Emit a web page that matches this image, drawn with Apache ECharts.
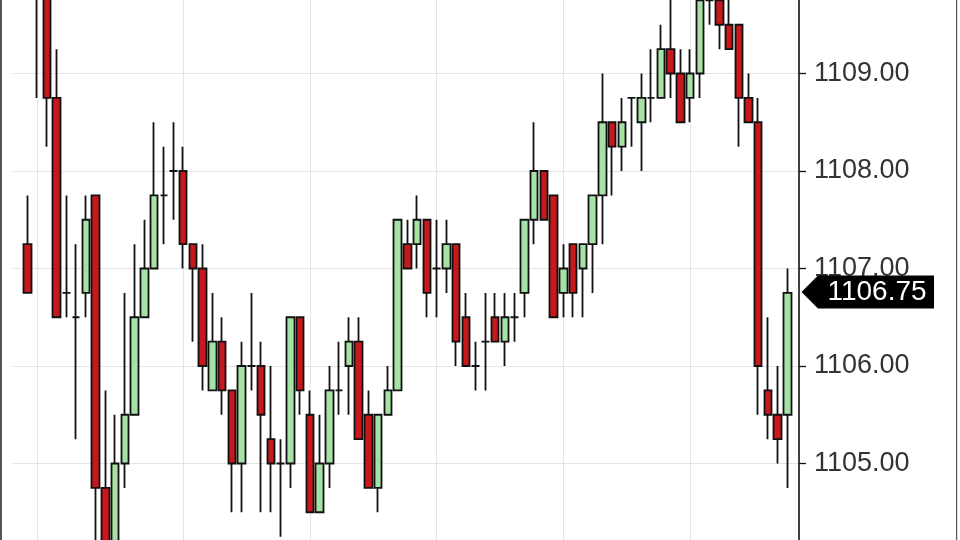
<!DOCTYPE html>
<html>
<head>
<meta charset="utf-8">
<script src="https://cdn.jsdelivr.net/npm/echarts@6/dist/echarts.min.js"></script>
<style>
html,body{margin:0;padding:0;background:#fff;width:960px;height:540px;overflow:hidden;position:relative;}
#chart{position:absolute;left:0;top:-24px;width:960px;height:585px;}
</style>
</head>
<body>
<div id="chart"></div>
<script>
// ---- data (each candle: open, close, low, high) ----
const opens  = [1107.25,1110.0,1110.25,1108.75,1106.75,1106.5,1106.75,1107.75,1104.75,1104.0,
                1105.0,1105.5,1106.5,1107.0,1107.75,1108.0,1108.0,1107.25,1107.0,1105.75,
                1106.25,1105.75,1105.0,1106.0,1106.0,1105.25,1105.0,1105.0,1106.5,1105.5,
                1104.5,1105.0,1105.75,1106.0,1106.25,1105.5,1104.75,1105.5,1105.75,1107.25,
                1107.25,1107.5,1107.0,1107.0,1107.25,1106.5,1106.0,1106.25,1106.5,1106.25,
                1106.5,1106.75,1107.5,1108.0,1107.75,1106.75,1107.25,1107.0,1107.25,1107.75,
                1108.5,1108.25,1108.75,1108.5,1108.75,1108.75,1109.25,1109.0,1108.75,1109.0,
                1109.75,1109.75,1109.5,1109.5,1108.75,1108.5,1105.75,1105.5,1105.5];
const closes = [1106.75,1110.5,1108.75,1106.5,1106.75,1106.5,1107.5,1104.75,1104.0,1105.0,
                1105.5,1106.5,1107.0,1107.75,1107.75,1108.0,1107.25,1107.0,1106.0,1106.25,
                1105.75,1105.0,1106.0,1106.0,1105.5,1105.0,1105.0,1106.5,1105.75,1104.5,
                1105.0,1105.75,1105.75,1106.25,1105.25,1104.75,1105.5,1105.75,1107.5,1107.0,
                1107.5,1106.75,1107.0,1107.25,1106.25,1106.0,1106.0,1106.25,1106.25,1106.5,
                1106.5,1107.5,1108.0,1107.5,1106.5,1107.0,1106.75,1107.25,1107.75,1108.5,
                1108.25,1108.5,1108.75,1108.75,1108.75,1109.25,1109.0,1108.5,1109.0,1109.75,
                1109.75,1109.5,1109.25,1108.75,1108.5,1106.0,1105.5,1105.25,1106.75];
const lows   = [1106.75,1108.75,1108.25,1106.5,1106.5,1105.25,1106.5,1103.75,1103.75,1103.75,
                1104.75,1105.5,1106.5,1107.0,1107.25,1107.5,1107.0,1106.25,1105.75,1105.75,
                1105.5,1104.5,1104.5,1105.75,1104.5,1104.5,1104.25,1104.75,1105.5,1104.5,
                1104.5,1104.75,1105.5,1105.5,1105.25,1104.75,1104.5,1105.5,1105.75,1107.0,
                1107.0,1106.5,1106.5,1106.75,1106.0,1106.0,1105.75,1105.75,1106.25,1106.0,
                1106.25,1106.5,1107.25,1107.5,1106.5,1106.5,1106.5,1106.5,1106.75,1107.25,
                1107.75,1108.0,1108.25,1108.0,1108.5,1108.75,1108.75,1108.5,1108.5,1108.75,
                1109.5,1109.25,1109.25,1108.25,1108.5,1105.5,1105.25,1105.0,1104.75];
const highs  = [1107.75,1110.75,1110.5,1109.25,1107.75,1107.25,1107.75,1107.75,1105.75,1105.5,
                1106.75,1107.25,1107.5,1108.5,1108.25,1108.5,1108.25,1107.25,1107.25,1106.75,
                1106.5,1105.75,1106.25,1106.75,1106.25,1106.0,1105.25,1106.5,1106.5,1105.75,
                1105.5,1106.0,1106.25,1106.5,1106.5,1105.75,1105.5,1106.0,1107.5,1107.5,
                1107.75,1107.5,1107.5,1107.5,1107.25,1106.75,1106.25,1106.75,1106.75,1106.75,
                1106.75,1107.5,1108.5,1108.0,1107.75,1107.25,1107.25,1107.25,1107.75,1109.0,
                1108.5,1108.75,1108.75,1109.0,1109.25,1109.5,1110.0,1109.25,1109.25,1110.0,
                1110.0,1110.0,1110.0,1109.5,1109.0,1108.75,1106.5,1106.0,1107.0];
// category labels (one spare slot on each side of the bars)
const categories = ['pre'].concat(opens.map((_, i) => String(i + 1))).concat(['post']);
// vertical session grid lines (at these bars)
const sessionMarks = ['2', '17', '30', '43', '56', '69'];
// price axis
const priceMin = 1104, priceMax = 1110, priceStep = 1;

const candles = [['-', '-', '-', '-']].concat(
  opens.map((o, i) => [o, closes[i], lows[i], highs[i]])
);
const lastClose = closes[closes.length - 1];

const chart = echarts.init(document.getElementById('chart'), null, {renderer: 'canvas'});
const FONT = '"Liberation Sans", Arial, sans-serif';

chart.setOption({
  animation: false,
  backgroundColor: '#ffffff',
  grid: { left: 12.7, width: 789.4, top: 0, bottom: 0, containLabel: false },
  xAxis: {
    type: 'category',
    data: categories,
    boundaryGap: true,
    axisLine: { show: false },
    axisTick: { show: false },
    axisLabel: { show: false },
    splitLine: { show: false }
  },
  yAxis: {
    type: 'value',
    position: 'right',
    offset: -3.1,
    min: priceMin,
    max: priceMax,
    interval: priceStep,
    axisLine: { show: true, lineStyle: { color: '#111', width: 1.6 } },
    axisTick: { show: true, length: 7, lineStyle: { color: '#111', width: 1.3 } },
    axisLabel: {
      show: true, margin: 15, color: '#333', fontSize: 27, fontFamily: FONT,
      showMinLabel: false, showMaxLabel: false,
      formatter: v => v.toFixed(2)
    },
    splitLine: { show: true, lineStyle: { color: '#e4e4e4', width: 1 } }
  },
  series: [{
    type: 'candlestick',
    data: candles,
    barWidth: 8,
    clip: true,
    itemStyle: {
      color: '#a6e2a6',
      color0: '#c9181b',
      borderColor: '#111',
      borderColor0: '#111',
      borderColorDoji: '#111',
      borderWidth: 1.8
    },
    markLine: {
      silent: true,
      symbol: 'none',
      label: { show: false },
      animation: false,
      z: 0,
      lineStyle: { color: '#e4e4e4', width: 1, type: 'solid' },
      data: sessionMarks.map(c => ({ xAxis: c }))
    },
    z: 3
  }]
});

// price tag at the last close, placed through the axis scale
const yc = chart.convertToPixel({ yAxisIndex: 0 }, lastClose) - 1;
const tip = 801.5, bodyL = 818, bodyR = 934, h = 16.5;
chart.setOption({
  graphic: [
    { type: 'rect', shape: { x: 0, y: 0, width: 2, height: 585 }, style: { fill: '#555' }, z: 100, silent: true },
    { type: 'rect', shape: { x: 956, y: 0, width: 1.2, height: 585 }, style: { fill: '#555' }, z: 100, silent: true },
    {
      type: 'polygon', z: 100, silent: true,
      shape: { points: [[tip, yc], [bodyL, yc - h], [bodyR, yc - h], [bodyR, yc + h], [bodyL, yc + h]] },
      style: { fill: '#000' }
    },
    {
      type: 'text', z: 101, silent: true,
      x: (bodyL + bodyR) / 2 + 1, y: yc,
      style: { text: lastClose.toFixed(2), fill: '#fff', font: '28px ' + FONT, align: 'center', verticalAlign: 'middle' }
    }
  ]
});
</script>
</body>
</html>
